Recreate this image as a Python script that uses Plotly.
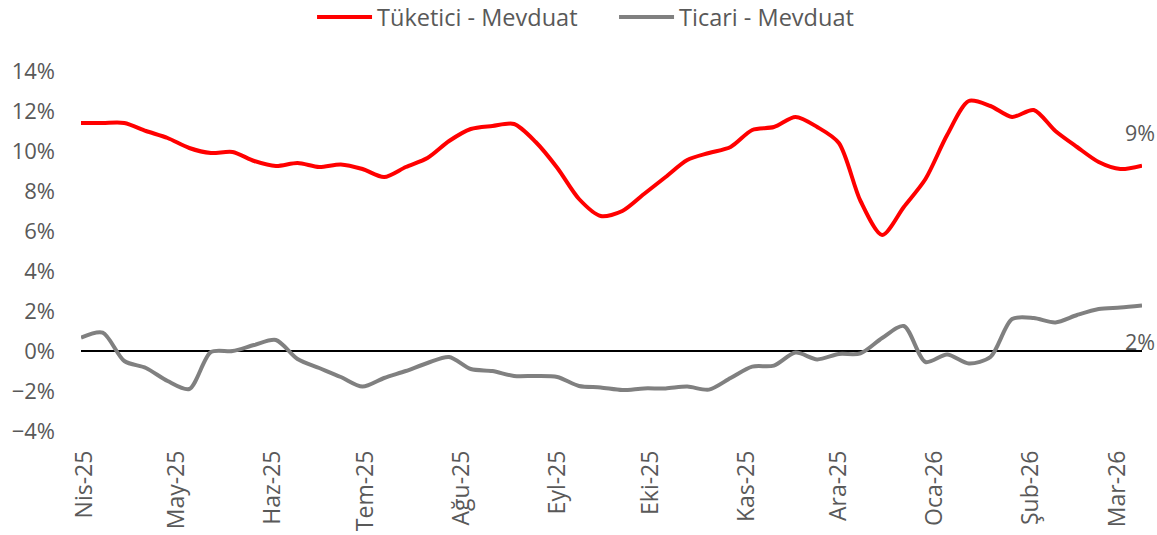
import plotly.graph_objects as go
import pandas as pd

# Weekly observations (Apr 2025 - Mar 2026)
dates = pd.date_range("2025-03-31", periods=50, freq="7D")

tuketici = [11.4, 11.4, 11.4, 11.0, 10.65, 10.15, 9.9, 9.95, 9.5, 9.25,
            9.4, 9.2, 9.33, 9.1, 8.7, 9.2, 9.65, 10.5, 11.1, 11.25,
            11.35, 10.45, 9.15, 7.6, 6.75, 7.0, 7.85, 8.7, 9.55, 9.9,
            10.2, 11.05, 11.2, 11.7, 11.2, 10.4, 7.5, 5.8, 7.2, 8.6,
            10.8, 12.5, 12.25, 11.7, 12.05, 11.0, 10.2, 9.45, 9.1, 9.27]

ticari = [0.67, 0.92, -0.5, -0.85, -1.5, -1.9, -0.05, 0.0, 0.3, 0.55,
          -0.4, -0.85, -1.3, -1.78, -1.35, -1.0, -0.6, -0.3, -0.9, -1.0,
          -1.25, -1.25, -1.3, -1.75, -1.82, -1.95, -1.87, -1.87, -1.78, -1.93,
          -1.35, -0.78, -0.73, -0.08, -0.42, -0.15, -0.12, 0.65, 1.25, -0.55,
          -0.17, -0.62, -0.3, 1.6, 1.65, 1.43, 1.8, 2.1, 2.17, 2.27]

month_ticks = ["2025-04-01", "2025-05-01", "2025-06-01", "2025-07-01",
               "2025-08-01", "2025-09-01", "2025-10-01", "2025-11-01",
               "2025-12-01", "2026-01-01", "2026-02-01", "2026-03-01"]
month_labels = ["Nis-25", "May-25", "Haz-25", "Tem-25", "Ağu-25", "Eyl-25",
                "Eki-25", "Kas-25", "Ara-25", "Oca-26", "Şub-26", "Mar-26"]

series_names = ["Tüketici - Mevduat", "Ticari - Mevduat"]
end_labels = ["9%", "2%"]
end_label_y = [10.95, 0.47]

RED = "#FF0000"
GRAY = "#808080"
TXT = "#595959"
FONT = "Open Sans"

fig = go.Figure()
fig.add_trace(go.Scatter(x=dates, y=tuketici, mode="lines", name=series_names[0],
                         line=dict(color=RED, width=4, shape="spline", smoothing=0.8)))
fig.add_trace(go.Scatter(x=dates, y=ticari, mode="lines", name=series_names[1],
                         line=dict(color=GRAY, width=4, shape="spline", smoothing=0.8)))

for txt, yv in zip(end_labels, end_label_y):
    fig.add_annotation(x=dates[-1], y=yv, text=txt, showarrow=False,
                       xanchor="center", yanchor="middle", xshift=-2,
                       font=dict(family=FONT, size=21.5, color=TXT))

fig.update_layout(
    width=1157, height=535,
    margin=dict(l=81, r=15, t=71, b=104, autoexpand=False),
    paper_bgcolor="white", plot_bgcolor="white",
    font=dict(family=FONT, size=22, color=TXT),
    showlegend=True,
    legend=dict(orientation="h", xref="container", x=0.2697, xanchor="left",
                yref="container", y=0.968, yanchor="middle",
                itemwidth=55, entrywidth=232, entrywidthmode="pixels",
                font=dict(family=FONT, size=23.5, color=TXT),
                bgcolor="rgba(0,0,0,0)"),
    xaxis=dict(type="date", range=[dates[0], dates[-1]], automargin=False,
               tickmode="array", tickvals=month_ticks, ticktext=month_labels,
               tickangle=-90, showgrid=False, zeroline=False, showline=False,
               ticks="", ticklabelstandoff=14,
               tickfont=dict(family=FONT, size=23, color=TXT)),
    yaxis=dict(range=[-4, 14], dtick=2, ticksuffix="%", showgrid=False,
               automargin=False,
               zeroline=True, zerolinecolor="black", zerolinewidth=2,
               showline=False, ticks="", ticklabelstandoff=25,
               tickfont=dict(family=FONT, size=22, color=TXT)),
)

fig.write_html("out.html", config={"displayModeBar": False},
               post_script="document.body.style.margin='0px';")
